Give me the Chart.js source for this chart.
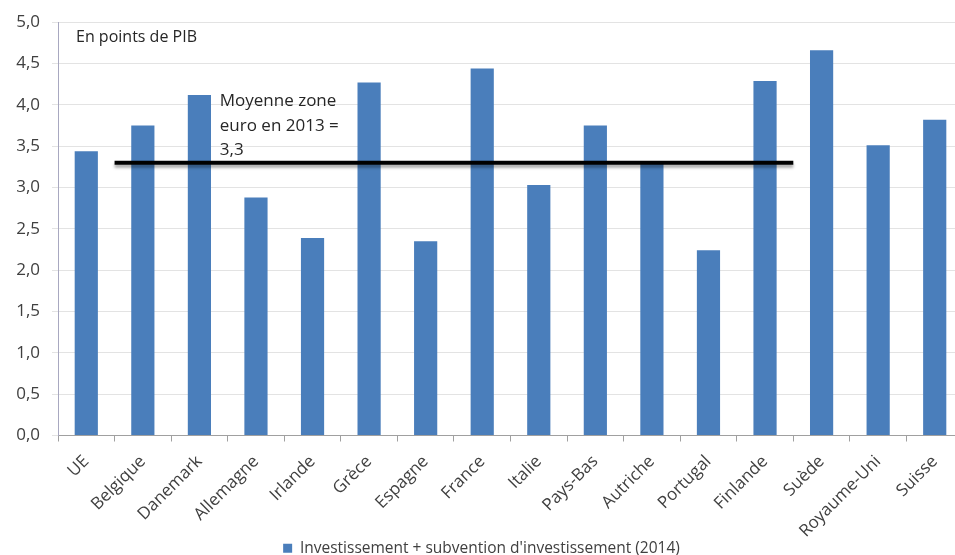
<!DOCTYPE html>
<html>
<head>
<meta charset="utf-8">
<script src="https://cdn.jsdelivr.net/npm/chart.js@4"></script>
<style>
  html, body { margin: 0; padding: 0; background: #fff; overflow: hidden; }
  #wrap { width: 968px; height: 555px; position: relative; }
</style>
</head>
<body>
<div id="wrap"><canvas id="chartPib"></canvas></div>
<script>
var pays    = ['UE','Belgique','Danemark','Allemagne','Irlande','Grèce','Espagne','France','Italie','Pays-Bas','Autriche','Portugal','Finlande','Suède','Royaume-Uni','Suisse'];
var valeurs = [3.44, 3.75, 4.12, 2.88, 2.39, 4.27, 2.35, 4.44, 3.03, 3.75, 3.29, 2.24, 4.29, 4.66, 3.51, 3.82];
var yTicks  = [0, 0.5, 1, 1.5, 2, 2.5, 3, 3.5, 4, 4.5, 5];

// moyenne zone euro, tracée entre les bornes de catégories 1 et 13
var moyenneValeur = 3.3;
var moyenneDebut  = 1;
var moyenneFin    = 13;

var serieLabel  = "Investissement + subvention d'investissement (2014)";
var noteUnite   = 'En points de PIB';
var noteMoyenne = ['Moyenne zone', 'euro en 2013 =', '3,3'];

var police = "'Open Sans', sans-serif";
var bleu   = '#4a7ebb';

// ── Ombre sous la ligne de moyenne ──────────────────────────────────────────
var ombreLigne = {
    id: 'ombreLigne',
    beforeDatasetDraw: function (chart, args) {
        if (args.index !== 1) return;
        var ctx = chart.ctx;
        ctx.save();
        ctx.shadowColor = 'rgba(0,0,0,0.35)';
        ctx.shadowOffsetY = 3;
        ctx.shadowBlur = 3;
    },
    afterDatasetDraw: function (chart, args) {
        if (args.index !== 1) return;
        chart.ctx.restore();
    }
};

// ── Textes dans la zone de tracé ────────────────────────────────────────────
var notes = {
    id: 'notes',
    afterDraw: function (chart) {
        var ctx = chart.ctx;
        var x2 = chart.scales.x2, y = chart.scales.y;
        ctx.save();
        ctx.fillStyle = '#262626';
        ctx.textBaseline = 'middle';
        ctx.textAlign = 'left';
        ctx.font = '16px ' + police;
        ctx.fillText(noteUnite, chart.chartArea.left + 18, y.getPixelForValue(4.82));
        ctx.font = '17px ' + police;
        var xm = x2.getPixelForValue(2.86);
        noteMoyenne.forEach(function (t, i) {
            ctx.fillText(t, xm, y.getPixelForValue(4.04 - i * 0.295));
        });
        ctx.restore();
    }
};

var moyennePts = [
    { x: moyenneDebut, y: moyenneValeur },
    { x: moyenneFin,   y: moyenneValeur }
];

new Chart(document.getElementById('chartPib'), {
    type: 'bar',
    data: {
        labels: pays,
        datasets: [{
            label: serieLabel,
            data: valeurs,
            backgroundColor: bleu,
            borderWidth: 0,
            grouped: false,
            categoryPercentage: 1,
            barPercentage: 0.41,
            order: 1
        }, {
            type: 'line',
            label: 'Moyenne',
            data: moyennePts,
            xAxisID: 'x2',
            borderColor: '#000',
            borderWidth: 4,
            pointRadius: 0,
            fill: false,
            order: 0
        }]
    },
    options: {
        responsive: true,
        maintainAspectRatio: false,
        animation: false,
        layout: { padding: { top: 16, right: 5, left: 0, bottom: -11 } },
        plugins: {
            legend: {
                position: 'bottom',
                labels: {
                    filter: function (item) { return item.datasetIndex === 0; },
                    boxWidth: 9, boxHeight: 9,
                    font: { family: police, size: 15.5 },
                    color: '#404040',
                    padding: 0
                }
            },
            tooltip: { enabled: false }
        },
        scales: {
            x: {
                offset: true,
                afterFit: function (s) { s.height = 105; },
                grid: { drawOnChartArea: false, drawTicks: true, tickLength: 6, color: '#a0a0a0', offset: true },
                border: { color: '#a0a0a0' },
                ticks: {
                    minRotation: 45, maxRotation: 45,
                    font: { family: police, size: 17 },
                    color: '#404040',
                    padding: 10
                }
            },
            x2: {
                type: 'linear',
                display: false,
                offset: false,
                min: 0, max: pays.length
            },
            y: {
                min: 0, max: 5,
                afterFit: function (s) { s.width = 58; },
                afterBuildTicks: function (s) { s.ticks = yTicks.map(function (v) { return { value: v }; }); },
                grid: { color: '#e3e3e3', tickLength: 6 },
                border: { color: '#a8a8c0' },
                ticks: {
                    padding: 12,
                    font: { family: police, size: 17 },
                    color: '#404040',
                    callback: function (v) { return v.toFixed(1).replace('.', ','); }
                }
            }
        }
    },
    plugins: [ombreLigne, notes]
});
</script>
</body>
</html>
